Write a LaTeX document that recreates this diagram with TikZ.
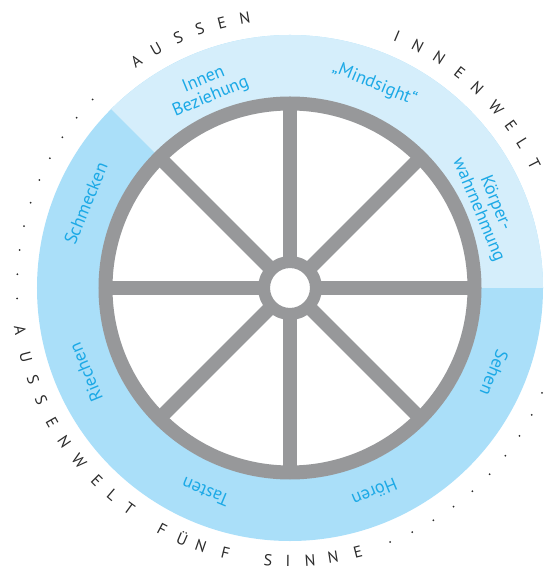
\documentclass[tikz,border=0pt]{standalone}
\usepackage{fontspec}
\setmainfont{PT Sans}
\usepackage{tikz}

\definecolor{bandlight}{HTML}{D5EEFB}
\definecolor{banddark}{HTML}{AADFF9}
\definecolor{wheelgray}{HTML}{97989A}
\definecolor{senseblue}{HTML}{1CA9E6}
\definecolor{rimtext}{HTML}{2B2B2B}

\tikzset{
  sense/.style={text=senseblue, font=\fontsize{18}{18.5}\selectfont, align=center, inner sep=0pt},
  outerletter/.style={text=rimtext, font=\fontsize{16}{16}\selectfont, inner sep=0pt},
  spoke/.style={draw=wheelgray, line width=14pt},
  rimdot/.style={fill=rimtext, circle, inner sep=0pt, minimum size=2pt}
}

\begin{document}
\begin{tikzpicture}[x=1pt,y=1pt]
				\useasboundingbox (-290,-281) rectangle (254,288);
				
				% band
				\fill[banddark] (0,0) circle (253);
				\fill[bandlight] (0,0) -- (0:253) arc (0:135:253) -- cycle;
				\fill[white] (0,0) circle (191);
				
				% wheel
				\coordinate (hub) at (0,0);
				\foreach \a in {0,45,...,315}
					\draw[spoke] (hub) -- (\a:184.5);
				\draw[wheelgray, line width=14pt] (hub) circle (184.5);
				\draw[wheelgray, line width=12pt, fill=white] (hub) circle (26);
				
				% senses
				\node (koerper) at (22.5:213)[sense, rotate=-67.5]{Körper-\\wahrnehmung};
				\node (mindsight) at (67.5:221)[sense, rotate=-22.5]{„Mindsight“};
				\node (innen) at (112.5:216)[sense, rotate=22.5]{Innen\\Beziehung};
				\node (schmecken) at (157.5:221)[sense, rotate=67.5]{Schmecken};
				\node (riechen) at (202.5:221)[sense, rotate=112.5]{Riechen};
				\node (tasten) at (247.5:221)[sense, rotate=157.5]{Tasten};
				\node (hoeren) at (292.5:221)[sense, rotate=202.5]{Hören};
				\node (sehen) at (337.5:221)[sense, rotate=247.5]{Sehen};
				
				% outer words
				\foreach \a/\c [count=\i] in {124.1/A,119.2/U,114.1/S,109.2/S,104.4/E,99.5/N,
					67.0/I,62.2/N,57.0/N,51.7/E,46.9/N,41.2/W,36.3/E,31.9/L,27.0/T}
					\node (top\i) at (\a:274)[outerletter, rotate=\a-90]{\c};
				\foreach \a/\c [count=\i] in {188.8/A,194.6/U,199.7/S,204.3/S,209.4/E,214.2/N,219.4/W,225.0/E,229.4/L,233.9/T,
					242.1/F,246.8/Ü,250.9/N,256.3/F,
					265.4/S,269.6/I,274.2/N,279.1/N,284.4/E}
					\node (bot\i) at (\a:273)[outerletter, rotate=\a+90]{\c};
				
				% dots
				\foreach \a [count=\i] in {136.3,141.4,...,182.3}
					\node (ldot\i) at (\a:273)[rimdot]{};
				\foreach \a [count=\i] in {-68.5,-63.4,...,-22.3}
					\node (rdot\i) at (\a:273)[rimdot]{};
			\end{tikzpicture}
\end{document}
